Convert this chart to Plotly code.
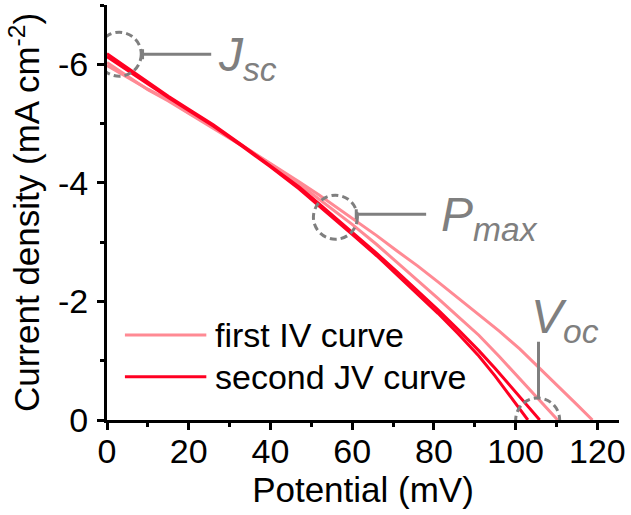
import plotly.graph_objects as go

# ---------------- data ----------------
# first IV curve (two sweeps)
v_first_1 = [0, 5, 10, 15, 20, 27, 35, 41, 47, 52, 60, 66, 71, 76, 81, 86, 91, 96, 101, 106, 111, 115, 118.8]
j_first_1 = [-5.98, -5.78, -5.58, -5.40, -5.18, -4.90, -4.55, -4.29, -4.02, -3.79, -3.41, -3.11, -2.85,
             -2.60, -2.33, -2.05, -1.77, -1.50, -1.20, -0.87, -0.53, -0.26, 0.0]
v_first_2 = [0, 5, 10, 15, 20, 27, 35, 41, 47, 52, 60, 66, 71, 76, 81, 86, 91, 96, 101, 106, 110.3]
j_first_2 = [-6.03, -5.80, -5.57, -5.38, -5.17, -4.89, -4.54, -4.27, -3.98, -3.72, -3.30, -2.96, -2.66,
             -2.36, -2.05, -1.74, -1.43, -1.07, -0.70, -0.33, 0.0]
# second JV curve (two sweeps)
v_second_1 = [0, 5, 10, 15, 20, 26, 33, 40, 47, 52, 60, 66, 71, 76, 81, 86, 91, 95, 99, 103]
j_second_1 = [-6.13, -5.90, -5.66, -5.44, -5.22, -4.96, -4.62, -4.27, -3.90, -3.61, -3.13, -2.77, -2.45,
              -2.13, -1.80, -1.45, -1.08, -0.74, -0.38, 0.0]
v_second_2 = [0, 5, 10, 15, 20, 26, 33, 40, 47, 52, 60, 66, 71, 76, 81, 86, 91, 95, 99, 102.5, 105.9]
j_second_2 = [-6.18, -5.94, -5.69, -5.46, -5.24, -4.98, -4.64, -4.29, -3.93, -3.64, -3.17, -2.81, -2.50,
              -2.18, -1.86, -1.52, -1.17, -0.87, -0.55, -0.27, 0.0]

series_names = ["first IV curve", "second JV curve"]
series_colors = ["#FF8A94", "#FF0022"]

x_ticks = [0, 20, 40, 60, 80, 100, 120]
y_ticks = [0, -2, -4, -6]
y_tick_text = ["0", "-2", "-4", "-6"]

# key points (V in mV, J in mA cm-2)
jsc_point = (3.0, -6.17)
pmax_point = (55.9, -3.42)
voc_point = (105.4, 0.0)

FONT = "Arial, 'Liberation Sans', sans-serif"
GREY = "#7F7F7F"

fig = go.Figure()
for v, j, k in [(v_first_1, j_first_1, 0), (v_first_2, j_first_2, 0),
                (v_second_1, j_second_1, 1), (v_second_2, j_second_2, 1)]:
    fig.add_trace(go.Scatter(x=v, y=j, mode="lines", name=series_names[k],
                             line=dict(color=series_colors[k], width=3),
                             showlegend=False))

shapes = []
# dashed circles
for (px, py) in [jsc_point, pmax_point, voc_point]:
    shapes.append(dict(type="circle", xref="x", yref="y", xsizemode="pixel", ysizemode="pixel",
                       xanchor=px, yanchor=py, x0=-22, x1=22, y0=-22, y1=22,
                       line=dict(color=GREY, width=3, dash="7px,4px"), layer="above"))
# connectors
shapes.append(dict(type="line", xref="x", yref="y", x0=8.7, x1=25.5, y0=jsc_point[1], y1=jsc_point[1],
                   line=dict(color=GREY, width=3)))
shapes.append(dict(type="line", xref="x", yref="y", x0=8.7, x1=8.7, ysizemode="pixel",
                   yanchor=jsc_point[1], y0=-5, y1=5, line=dict(color=GREY, width=3)))
shapes.append(dict(type="line", xref="x", yref="y", x0=61.0, x1=78.1, y0=-3.47, y1=-3.47,
                   line=dict(color=GREY, width=3)))
shapes.append(dict(type="line", xref="x", yref="y", x0=61.0, x1=61.0, ysizemode="pixel",
                   yanchor=-3.47, y0=-5, y1=5, line=dict(color=GREY, width=3)))
shapes.append(dict(type="line", xref="x", yref="y", x0=105.6, x1=105.6, y0=-1.32, y1=-0.36,
                   line=dict(color=GREY, width=3)))

# legend (drawn manually to match long legend lines)
legend_y = [0.205, 0.104]
annotations = []
for k in range(2):
    shapes.append(dict(type="line", xref="paper", yref="paper", x0=0.035, x1=0.194,
                       y0=legend_y[k], y1=legend_y[k],
                       line=dict(color=series_colors[k], width=3)))
    annotations.append(dict(xref="paper", yref="paper", x=0.207, y=legend_y[k], xanchor="left",
                            yanchor="middle", showarrow=False, text=series_names[k],
                            font=dict(family=FONT, size=34, color="black")))

# labels
for txt, x, y in [("<i>J<sub>sc</sub></i>", 26.7, -6.11),
                  ("<i>P<sub>max</sub></i>", 81.2, -3.40),
                  ("<i>V<sub>oc</sub></i>", 103.3, -1.68)]:
    annotations.append(dict(xref="x", yref="y", x=x, y=y, xanchor="left", yanchor="middle",
                            showarrow=False, text=txt,
                            font=dict(family=FONT, size=48, color=GREY)))

fig.update_layout(
    width=631, height=515,
    margin=dict(l=107, r=9, t=5, b=95),
    paper_bgcolor="white", plot_bgcolor="white",
    font=dict(family=FONT, size=34, color="black"),
    shapes=shapes, annotations=annotations,
    showlegend=False,
)
fig.update_xaxes(
    range=[0, 125.3], showgrid=False, zeroline=False,
    showline=True, linecolor="black", linewidth=3,
    ticks="outside", ticklen=7, tickwidth=3, tickcolor="black",
    tickvals=x_ticks, tickfont=dict(size=34), ticklabelstandoff=-8,
    minor=dict(dtick=10, ticks="outside", ticklen=4, tickwidth=3, tickcolor="black"),
    title=dict(text="Potential (mV)", font=dict(size=35), standoff=4),
)
fig.update_yaxes(
    range=[0, -7], showgrid=False, zeroline=False,
    showline=True, linecolor="black", linewidth=3,
    ticks="outside", ticklen=7, tickwidth=3, tickcolor="black",
    tickvals=y_ticks, ticktext=y_tick_text, tickfont=dict(size=34), ticklabelstandoff=2,
    minor=dict(dtick=1, ticks="outside", ticklen=4, tickwidth=3, tickcolor="black"),
    title=dict(text="Current density (mA cm<sup>-2</sup>)", font=dict(size=35), standoff=8),
)

fig.write_html("out.html")
